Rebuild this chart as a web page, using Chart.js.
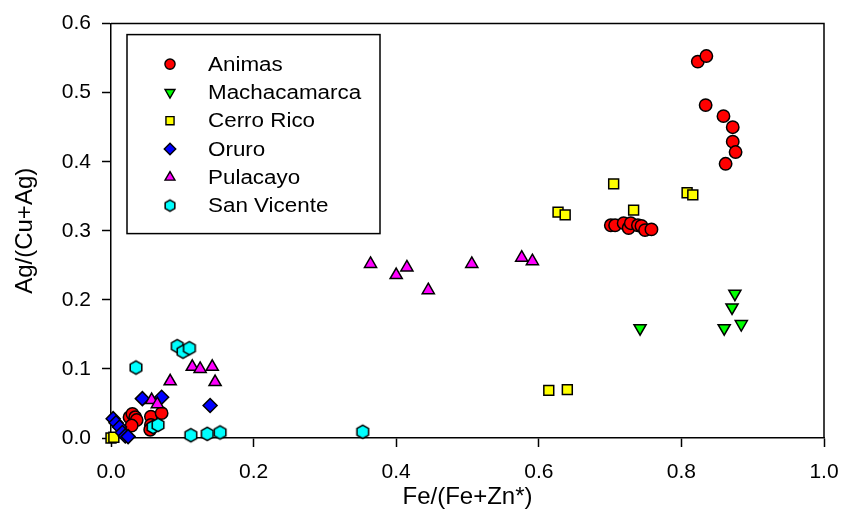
<!DOCTYPE html>
<html>
<head>
<meta charset="utf-8">
<script src="https://cdn.jsdelivr.net/npm/chart.js@4.4.1/dist/chart.umd.min.js"></script>
<style>
  html, body { margin: 0; padding: 0; background: #fff; }
  #wrap { width: 854px; height: 515px; }
</style>
</head>
<body>
<div id="wrap"><canvas id="chart" width="854" height="515"></canvas></div>
<script>
// values: x = Fe/(Fe+Zn*), y = Ag/(Cu+Ag)
const animasFe = [0.823, 0.835, 0.834, 0.859, 0.872, 0.872, 0.876, 0.862,
                  0.701, 0.707, 0.719, 0.726, 0.729, 0.739, 0.744, 0.749, 0.758,
                  0.026, 0.030, 0.034, 0.036, 0.029, 0.056, 0.071, 0.056, 0.055];
const animasAg = [0.545, 0.553, 0.482, 0.466, 0.450, 0.429, 0.414, 0.397,
                  0.308, 0.308, 0.311, 0.304, 0.311, 0.308, 0.307, 0.301, 0.302,
                  0.030, 0.035, 0.030, 0.026, 0.018, 0.031, 0.036, 0.019, 0.012];

const machaFe = [0.875, 0.871, 0.884, 0.860, 0.742];
const machaAg = [0.209, 0.189, 0.165, 0.159, 0.159];

const cerroFe = [0.705, 0.808, 0.816, 0.733, 0.627, 0.637, 0.614, 0.640, 0.000, 0.004];
const cerroAg = [0.368, 0.355, 0.352, 0.330, 0.327, 0.323, 0.069, 0.070, 0.000, 0.001];

const oruroFe = [0.003, 0.007, 0.012, 0.016, 0.020, 0.024, 0.044, 0.071, 0.139];
const oruroAg = [0.028, 0.022, 0.016, 0.008, 0.003, 0.002, 0.057, 0.059, 0.047];

const pulaFe = [0.364, 0.400, 0.415, 0.445, 0.506, 0.576, 0.591,
                0.083, 0.114, 0.125, 0.142, 0.146, 0.057, 0.065];
const pulaAg = [0.252, 0.236, 0.247, 0.214, 0.252, 0.261, 0.256,
                0.082, 0.103, 0.100, 0.103, 0.081, 0.055, 0.049];

const vicenteFe = [0.035, 0.093, 0.101, 0.110, 0.059, 0.066, 0.112, 0.135, 0.153, 0.353];
const vicenteAg = [0.102, 0.133, 0.125, 0.130, 0.016, 0.019, 0.004, 0.006, 0.008, 0.009];

const xTicks = [0, 0.2, 0.4, 0.6, 0.8, 1.0];
const yTicks = [0, 0.1, 0.2, 0.3, 0.4, 0.5, 0.6];

const toPoints = (xs, ys) => xs.map((x, i) => ({ x: x, y: ys[i] }));

// hexagon marker, not built into Chart.js
function hexagon(r) {
  const c = document.createElement('canvas');
  const s = Math.ceil(r * 2 + 4);
  c.width = s; c.height = s;
  const g = c.getContext('2d');
  g.beginPath();
  for (let k = 0; k < 6; k++) {
    const a = -Math.PI / 2 + k * Math.PI / 3;
    const px = s / 2 + r * Math.cos(a), py = s / 2 + r * Math.sin(a);
    if (k === 0) g.moveTo(px, py); else g.lineTo(px, py);
  }
  g.closePath();
  g.fillStyle = '#00ffff';
  g.fill();
  g.lineWidth = 1.5;
  g.strokeStyle = '#000';
  g.stroke();
  return c;
}

const hexMain = hexagon(6.7);
const hexLegend = hexagon(5.6);

const series = (label, xs, ys, color, style, radius, rotation, order) => ({
  label: label,
  data: toPoints(xs, ys),
  backgroundColor: color,
  borderColor: '#000',
  borderWidth: 1.5,
  pointStyle: style,
  pointRadius: radius,
  pointHoverRadius: radius,
  rotation: rotation,
  clip: false,
  order: order
});

const frameAndLegend = {
  id: 'frameAndLegend',
  afterDraw(chart) {
    const { ctx, chartArea: a } = chart;
    ctx.save();
    ctx.strokeStyle = '#000';
    ctx.lineWidth = 1.5;
    ctx.beginPath();
    ctx.moveTo(a.left, a.top);
    ctx.lineTo(a.right, a.top);
    ctx.lineTo(a.right, a.bottom);
    ctx.stroke();

    // legend box
    const bx = a.left + 16, by = a.top + 11, bw = 253, bh = 199;
    ctx.fillStyle = '#fff';
    ctx.fillRect(bx, by, bw, bh);
    ctx.strokeRect(bx, by, bw, bh);

    const legendStyle = [null, null, null, null, null, hexLegend];
    chart.data.datasets.forEach((ds, i) => {
      const y = by + 29.5 + i * 28.3;
      const mx = a.left + 59;
      ctx.fillStyle = ds.backgroundColor;
      ctx.strokeStyle = '#000';
      ctx.lineWidth = 1.4;
      Chart.helpers.drawPoint(ctx, {
        pointStyle: legendStyle[i] || ds.pointStyle,
        rotation: ds.rotation,
        radius: ds.pointRadius * 0.82,
        borderWidth: 1.4
      }, mx, y);
      ctx.save();
      ctx.translate(a.left + 97, y + 1);
      ctx.scale(1.12, 1);
      ctx.fillStyle = '#000';
      ctx.font = '20px "Liberation Sans", Arial, sans-serif';
      ctx.textBaseline = 'middle';
      ctx.textAlign = 'left';
      ctx.fillText(ds.label, 0, 0);
      ctx.restore();
    });
    ctx.restore();
  }
};

const tickFont = { family: '"Liberation Sans", Arial, sans-serif', size: 21 };
const titleFont = { family: '"Liberation Sans", Arial, sans-serif', size: 24 };

new Chart(document.getElementById('chart'), {
  type: 'scatter',
  data: {
    datasets: [
      series('Animas', animasFe, animasAg, '#ff0000', 'circle', 6.2, 0, 6),
      series('Machacamarca', machaFe, machaAg, '#00ff00', 'triangle', 7, 180, 5),
      series('Cerro Rico', cerroFe, cerroAg, '#ffff00', 'rect', 7, 0, 4),
      series('Oruro', oruroFe, oruroAg, '#0000ff', 'rectRot', 7, 0, 3),
      series('Pulacayo', pulaFe, pulaAg, '#ff00ff', 'triangle', 7, 0, 2),
      series('San Vicente', vicenteFe, vicenteAg, '#00ffff', hexMain, 6.7, 0, 1)
    ]
  },
  options: {
    responsive: false,
    animation: false,
    events: [],
    layout: { padding: { top: 18, right: 30, left: 0, bottom: 0 } },
    plugins: {
      legend: { display: false },
      tooltip: { enabled: false }
    },
    scales: {
      x: {
        type: 'linear',
        min: 0,
        max: 1,
        afterBuildTicks: (s) => { s.ticks = xTicks.map(v => ({ value: v })); },
        afterFit: (s) => { s.height = 77; },
        ticks: {
          color: '#000',
          font: tickFont,
          padding: 13,
          callback: (v) => Number(v).toFixed(1)
        },
        grid: { drawOnChartArea: false, tickLength: 9, tickColor: '#000', tickWidth: 1.5 },
        border: { display: true, color: '#000', width: 1.5 },
        title: { display: true, text: 'Fe/(Fe+Zn*)', color: '#000', font: titleFont, padding: { top: 0, bottom: 3 } }
      },
      y: {
        type: 'linear',
        min: 0,
        max: 0.6,
        afterBuildTicks: (s) => { s.ticks = yTicks.map(v => ({ value: v })); },
        afterFit: (s) => { s.width = 111; },
        ticks: {
          color: '#000',
          font: tickFont,
          padding: 11,
          callback: (v) => Number(v).toFixed(1)
        },
        grid: { drawOnChartArea: false, tickLength: 9, tickColor: '#000', tickWidth: 1.5 },
        border: { display: true, color: '#000', width: 1.5 },
        title: { display: true, text: 'Ag/(Cu+Ag)', color: '#000', font: titleFont, padding: { top: 11, bottom: 0 } }
      }
    }
  },
  plugins: [frameAndLegend]
});
</script>
</body>
</html>
